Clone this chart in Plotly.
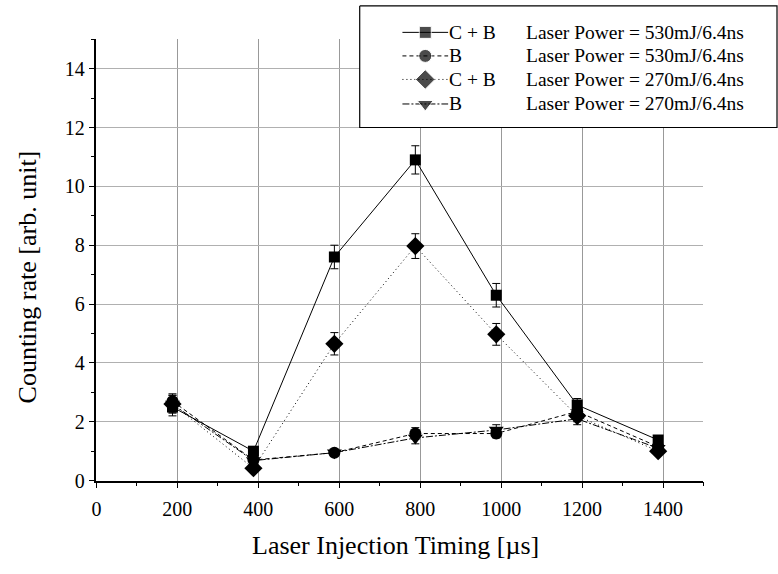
import plotly.graph_objects as go

W, H = 778, 574

# ---- data ----
timing = [188, 388, 588, 788, 988, 1188, 1388]
cb_530 = [2.5, 1.0, 7.6, 10.9, 6.3, 2.57, 1.38]
cb_530_err = [0.3, 0.15, 0.4, 0.48, 0.4, 0.22, 0.12]
b_530 = [2.7, 0.7, 0.95, 1.6, 1.6, 2.35, 1.15]
b_530_err = [0.25, 0.1, 0.1, 0.2, 0.15, 0.2, 0.12]
cb_270 = [2.6, 0.42, 4.65, 7.97, 4.97, 2.2, 1.0]
cb_270_err = [0.3, 0.1, 0.38, 0.42, 0.37, 0.2, 0.12]
b_270 = [2.6, 0.68, 0.95, 1.45, 1.72, 2.1, 1.1]
b_270_err = [0.3, 0.1, 0.1, 0.2, 0.18, 0.2, 0.1]

series_names = ["C + B", "B", "C + B", "B"]
power_labels = ["Laser Power = 530mJ/6.4ns", "Laser Power = 530mJ/6.4ns",
                "Laser Power = 270mJ/6.4ns", "Laser Power = 270mJ/6.4ns"]
x_ticks = [0, 200, 400, 600, 800, 1000, 1200, 1400]
y_ticks = [0, 2, 4, 6, 8, 10, 12, 14]

FONT = "Liberation Serif, Times New Roman, serif"
styles = [
    dict(symbol="square", size=11, dash="solid"),
    dict(symbol="circle", size=12, dash="4px,3px"),
    dict(symbol="diamond", size=14, dash="1px,3px"),
    dict(symbol="triangle-down", size=13, dash="7px,2px,2px,2px"),
]
ys = [cb_530, b_530, cb_270, b_270]
errs = [cb_530_err, b_530_err, cb_270_err, b_270_err]

fig = go.Figure()
for y, e, st in zip(ys, errs, styles):
    fig.add_trace(go.Scatter(
        x=timing, y=y, mode="lines+markers",
        line=dict(color="black", width=1, dash=st["dash"]),
        marker=dict(symbol=st["symbol"], size=st["size"], color="black"),
        error_y=dict(type="data", array=e, visible=True, color="black",
                     thickness=1, width=4),
        showlegend=False, xaxis="x", yaxis="y", cliponaxis=False,
    ))

# ---- custom legend drawn in a pixel-coordinate overlay subplot ----
box_l, box_r, box_t, box_b = 357, 777, 6, 130
fig.add_trace(go.Scatter(
    x=[box_l, box_r, box_r, box_l, box_l], y=[box_t, box_t, box_b, box_b, box_t],
    mode="lines", fill="toself", fillcolor="white",
    line=dict(color="black", width=1.2), showlegend=False,
    hoverinfo="skip", xaxis="x2", yaxis="y2",
))
row_y = [33, 57, 81, 106]
annotations = []
for ry, st, nm, pw in zip(row_y, styles, series_names, power_labels):
    fig.add_trace(go.Scatter(
        x=[400, 423, 446], y=[ry, ry, ry], mode="lines+markers",
        line=dict(color="black", width=1, dash=st["dash"]),
        marker=dict(symbol=st["symbol"], size=[0, st["size"] + 1, 0], color="black"),
        showlegend=False, hoverinfo="skip", xaxis="x2", yaxis="y2",
    ))
    annotations.append(dict(x=445, y=ry, xref="x2", yref="y2", text=nm,
                            showarrow=False, xanchor="left", yanchor="middle",
                            font=dict(family=FONT, size=19.5, color="black")))
    annotations.append(dict(x=522, y=ry, xref="x2", yref="y2", text=pw,
                            showarrow=False, xanchor="left", yanchor="middle",
                            font=dict(family=FONT, size=19.5, color="black")))

annotations.append(dict(x=393 / W, y=1 - 556 / H, xref="paper", yref="paper",
                        text="Laser Injection Timing [µs]", showarrow=False,
                        xanchor="center", yanchor="middle",
                        font=dict(family=FONT, size=26, color="black")))
annotations.append(dict(x=23 / W, y=1 - 282 / H, xref="paper", yref="paper",
                        text="Counting rate [arb. unit]", showarrow=False,
                        textangle=-90, xanchor="center", yanchor="middle",
                        font=dict(family=FONT, size=26, color="black")))

axis_common = dict(
    showline=True, linecolor="black", linewidth=1.5, ticks="outside",
    ticklen=6, tickwidth=1.2, tickcolor="black", showgrid=True,
    gridwidth=1, zeroline=False, mirror=False,
    tickfont=dict(family=FONT, size=20, color="black"),
)

fig.update_layout(
    width=W, height=H,
    margin=dict(l=0, r=0, t=0, b=0),
    paper_bgcolor="white", plot_bgcolor="rgba(0,0,0,0)",
    showlegend=False,
    xaxis=dict(domain=[92 / W, 703 / W], range=[0, 1500], anchor="y",
               tickmode="array", tickvals=x_ticks, gridcolor="#999999",
               ticklabelstandoff=4,
               minor=dict(dtick=100, tick0=0, ticklen=4, ticks="outside",
                          tickcolor="black", showgrid=False),
               **axis_common),
    yaxis=dict(domain=[1 - 490 / H, 1 - 40 / H], range=[0, 15], anchor="x",
               tickmode="array", tickvals=y_ticks, gridcolor="#b0b0b0",
               minor=dict(dtick=1, tick0=0, ticklen=4, ticks="outside",
                          tickcolor="black", showgrid=False),
               **axis_common),
    xaxis2=dict(domain=[0, 1], range=[0, W], anchor="y2", visible=False,
                fixedrange=True),
    yaxis2=dict(domain=[0, 1], range=[H, 0], anchor="x2", visible=False,
                fixedrange=True),
    annotations=annotations,
)

fig.write_html("out.html")
